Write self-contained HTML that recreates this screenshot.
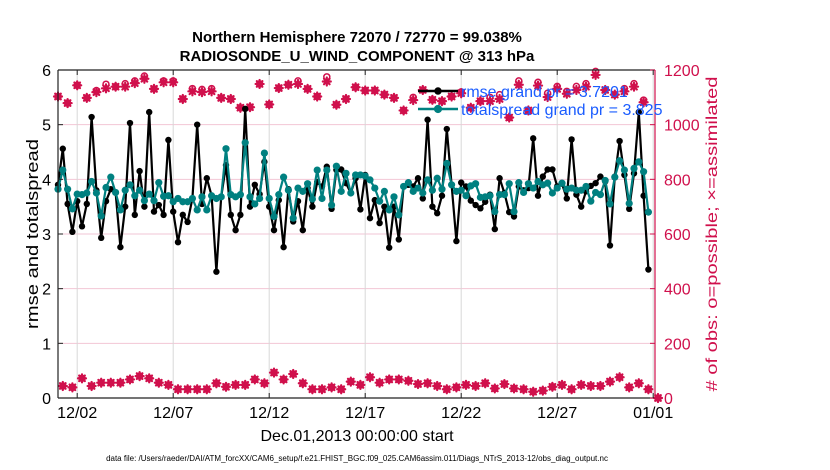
<!DOCTYPE html>
<html><head><meta charset="utf-8">
<style>
html,body{margin:0;padding:0;background:#fff;}
svg{display:block;font-family:"Liberation Sans",Arial,sans-serif;}
</style></head>
<body>
<svg id="chart" width="830" height="470" viewBox="0 0 830 470" xmlns="http://www.w3.org/2000/svg">
<text x="357" y="42" text-anchor="middle" font-size="15" font-weight="bold">Northern Hemisphere 72070 / 72770 = 99.038%</text>
<text x="357" y="61" text-anchor="middle" font-size="15" font-weight="bold">RADIOSONDE_U_WIND_COMPONENT @ 313 hPa</text>
<g id="grid"></g>
<g id="obs"></g>
<g id="series"></g>
<g id="axes"></g>
<text transform="translate(38,234) rotate(-90)" text-anchor="middle" font-size="17" textLength="190" lengthAdjust="spacingAndGlyphs">rmse and totalspread</text>
<text transform="translate(717,234) rotate(-90)" text-anchor="middle" font-size="16" fill="#d0104c" textLength="315" lengthAdjust="spacingAndGlyphs"># of obs: o=possible; ×=assimilated</text>
<text x="357" y="441" text-anchor="middle" font-size="16">Dec.01,2013 00:00:00 start</text>
<text x="357" y="461" text-anchor="middle" font-size="8">data file: /Users/raeder/DAI/ATM_forcXX/CAM6_setup/f.e21.FHIST_BGC.f09_025.CAM6assim.011/Diags_NTrS_2013-12/obs_diag_output.nc</text>
<g id="legend"></g>
</svg>
<script>
// ---- data ----
const rmse = [3.9,4.56,3.55,3.04,3.6,3.14,3.55,5.14,3.8,2.93,3.6,3.82,3.76,2.76,3.5,5.03,3.35,4.15,3.5,5.23,3.41,3.53,3.35,4.72,3.41,2.85,
3.35,3.22,3.65,5.0,3.55,4.02,3.7,2.31,3.68,4.26,3.35,3.07,3.35,5.29,3.5,3.9,3.73,4.32,3.5,3.07,3.62,2.76,3.82,3.23,3.6,
3.07,3.84,3.5,3.95,3.87,4.23,3.46,4.17,4.18,3.93,3.75,4.02,3.45,4.08,3.29,3.62,3.2,3.5,2.75,3.5,2.9,3.87,3.9,3.87,4.02,
3.65,5.09,3.5,3.38,3.7,4.92,3.9,2.87,3.94,3.87,3.61,3.53,3.47,3.59,3.72,3.09,4.02,3.75,3.4,3.32,3.87,3.8,3.84,4.75,3.7,
4.05,4.18,4.18,3.87,3.92,3.65,4.73,3.72,3.5,3.78,3.88,3.93,4.05,3.96,2.79,4.05,4.7,4.08,3.46,4.11,5.23,3.7,2.35];
const spread = [3.82,4.17,3.82,3.46,3.73,3.72,3.75,3.96,3.75,3.33,3.85,4.04,3.76,3.44,3.8,3.9,3.7,3.8,3.61,3.73,3.61,3.94,3.69,3.7,3.59,3.65,
3.59,3.59,3.65,3.44,3.68,3.44,3.7,3.65,3.68,4.56,3.72,3.68,3.72,4.67,3.68,3.55,3.65,4.48,3.65,3.32,3.72,4.04,3.8,3.29,3.84,
3.78,3.92,3.64,4.17,3.65,4.17,3.53,4.24,3.78,4.11,3.75,4.08,4.08,4.06,3.99,3.84,3.6,3.78,3.44,3.68,3.35,3.87,3.94,3.78,3.84,
3.75,3.99,3.8,4.02,3.82,4.29,3.9,3.78,3.8,3.7,3.88,3.92,3.67,3.68,3.7,3.41,3.72,3.72,3.92,3.41,3.94,3.76,3.92,3.84,3.96,
3.9,3.93,3.75,3.84,3.93,3.82,3.84,3.8,3.8,3.87,3.6,3.76,3.72,3.98,3.55,4.04,4.34,4.17,3.56,4.2,4.32,4.14,3.4];
// obs counts at 00Z/12Z (even 6-h bins)
const assimMain = [1103,1079,1144,1098,1119,1133,1139,1139,1152,1168,1131,1155,1155,
1094,1122,1119,1122,1098,1094,1062,1064,1149,1074,1134,1146,1149,
1131,1103,1158,1073,1094,1137,1125,1125,1110,1098,1052,1090,
1127,1091,1086,1103,1115,1062,1086,1086,1094,1026,1146,1052,
1143,1101,1131,1113,1127,1139,1182,1127,1110,1122,1139,1082];
const possibleMain = [1103,1079,1144,1098,1125,1148,1139,1150,1160,1178,1131,1160,1160,
1094,1132,1129,1132,1098,1094,1062,1064,1149,1074,1134,1146,1160,
1131,1103,1175,1073,1094,1137,1125,1125,1110,1098,1052,1100,
1127,1091,1086,1103,1120,1062,1086,1100,1110,1026,1160,1052,
1155,1115,1140,1122,1140,1150,1195,1127,1110,1132,1150,1090];
// obs counts at 06Z/18Z (odd 6-h bins) + final bin
const assimOff = [44,39,72,44,56,56,56,68,80,72,56,48,32,32,32,32,54,41,48,48,68,54,93,68,88,54,32,32,39,32,60,
48,76,56,68,68,63,51,54,44,32,39,48,44,54,35,51,35,32,23,27,41,48,32,48,44,44,60,76,39,54,32,0];
const possibleOff = assimOff.slice();
const xTickLabels = ["12/02","12/07","12/12","12/17","12/22","12/27","01/01"];
const xTickDays = [1,6,11,16,21,26,31];
const yTicks = [0,1,2,3,4,5,6];
const y2Ticks = [0,200,400,600,800,1000,1200];
const legendLabels = ["rmse grand pr = 3.7201","totalspread grand pr = 3.825"];

// ---- scales ----
const NS="http://www.w3.org/2000/svg";
const L=58,R=655,T=70,B=398;
const xs = i => 58 + i*4.8;
const xd = d => 58 + d*19.2;
const ys = v => B - (v/6)*(B-T);
const y2s = c => B - (c/1200)*(B-T);
const RED="#d0104c", TEAL="#008080";
function mk(tag, attrs, parent){const e=document.createElementNS(NS,tag);for(const k in attrs)e.setAttribute(k,attrs[k]);parent.appendChild(e);return e;}
const grid=document.getElementById('grid'),axes=document.getElementById('axes'),ser=document.getElementById('series'),obs=document.getElementById('obs'),leg=document.getElementById('legend');

yTicks.forEach(v=>{ if(v>0&&v<6){const g=mk('line',{x1:L,x2:R,y1:ys(v),y2:ys(v),stroke:'#f2c6d4','stroke-width':1},grid);

}});
xTickDays.forEach(d=>{const g=mk('line',{x1:xd(d),x2:xd(d),y1:T,y2:B,stroke:'#d8d8d8','stroke-width':1},grid);

});

mk('line',{x1:L,x2:R,y1:T,y2:T,stroke:'#222','stroke-width':1.2},axes);
mk('line',{x1:L,x2:R,y1:B,y2:B,stroke:'#222','stroke-width':1.2},axes);
mk('line',{x1:L,x2:L,y1:T,y2:B,stroke:'#222','stroke-width':1.2},axes);
mk('line',{x1:R,x2:R,y1:T,y2:B,stroke:RED,'stroke-width':1.2},axes);
yTicks.forEach(v=>{
 mk('line',{x1:L,x2:L+5,y1:ys(v),y2:ys(v),stroke:'#222'},axes);
 const t=mk('text',{x:L-7,y:ys(v)+6,'text-anchor':'end','font-size':16},axes);t.textContent=v;
 
 
});
y2Ticks.forEach(c=>{
 mk('line',{x1:R-5,x2:R,y1:y2s(c),y2:y2s(c),stroke:RED},axes);
 const t=mk('text',{x:R+9,y:y2s(c)+6,'font-size':16,fill:RED},axes);t.textContent=c;
 
 
});
xTickDays.forEach((d,k)=>{
 mk('line',{x1:xd(d),x2:xd(d),y1:B-5,y2:B,stroke:'#222'},axes);
 mk('line',{x1:xd(d),x2:xd(d),y1:T,y2:T+5,stroke:'#222'},axes);
 const t=mk('text',{x:xd(d),y:B+20,'text-anchor':'middle','font-size':16},axes);t.textContent=xTickLabels[k];
 
 
});

function star(x,y,p){
 const g=mk('g',{stroke:RED,'stroke-width':2.2,'stroke-linecap':'round'},p);
 mk('line',{x1:x-4,x2:x+4,y1:y,y2:y},g);
 mk('line',{x1:x,x2:x,y1:y-4,y2:y+4},g);
 mk('line',{x1:x-2.8,x2:x+2.8,y1:y-2.8,y2:y+2.8},g);
 mk('line',{x1:x-2.8,x2:x+2.8,y1:y+2.8,y2:y-2.8},g);
 return g;
}
function drawObs(arrA,arrP,offset){
 arrA.forEach((c,k)=>{
  const i=offset+2*k;
  const cp=mk('circle',{cx:xs(i),cy:y2s(arrP[k]),r:3,fill:'none',stroke:RED,'stroke-width':1.5},obs);
  
  
  const s=star(xs(i),y2s(c),obs);
  
  
 });
}
drawObs(assimMain,possibleMain,0);
drawObs(assimOff,possibleOff,1);

function drawSeries(vals,color,r,name){
 const pts=vals.map((v,i)=>xs(i).toFixed(1)+','+ys(v).toFixed(1)).join(' ');
 const pl=mk('polyline',{points:pts,fill:'none',stroke:color,'stroke-width':2.2,'stroke-linejoin':'round'},ser);
 
 
 vals.forEach((v,i)=>{const c=mk('circle',{cx:xs(i),cy:ys(v),r:r,fill:color},ser);
  
  });
}
drawSeries(rmse,'#000',3.2,'rmse');
drawSeries(spread,TEAL,3.6,'totalspread');

[[ '#000',91,3.2],[TEAL,109,3.6]].forEach((s,k)=>{
 mk('line',{x1:418,x2:458,y1:s[1],y2:s[1],stroke:s[0],'stroke-width':2.5},leg);
 mk('circle',{cx:438,cy:s[1],r:s[2]+0.5,fill:s[0]},leg);
 const t=mk('text',{x:461,y:s[1]+6,'font-size':16,fill:'#1a5cff'},leg);
 t.textContent=legendLabels[k];
 
 
});
</script>
</body></html>
